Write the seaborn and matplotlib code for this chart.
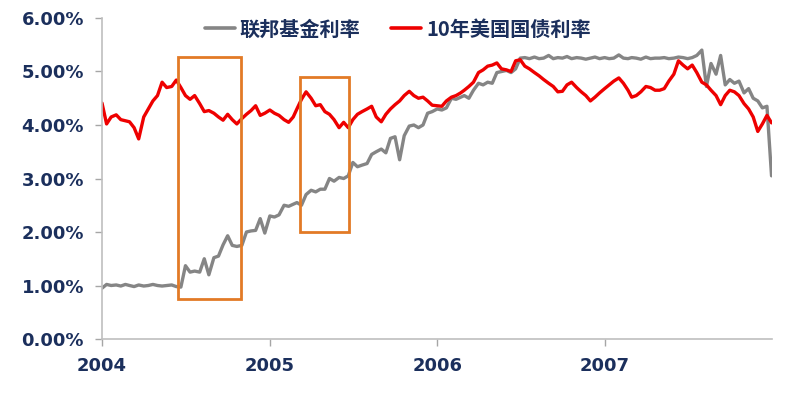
import matplotlib
matplotlib.use("Agg")
import matplotlib.pyplot as plt
import matplotlib.dates as mdates
from matplotlib.patches import Rectangle
import seaborn as sns
import pandas as pd

# ---- data (3 observations per month: 1st, 11th, 21st, plus 2007-12-31) ----
years = [2004, 2005, 2006, 2007]
days = [1, 11, 21]

fed_funds_2004 = [0.95, 1.02, 1.00, 1.01, 0.99, 1.02, 1.00, 0.98, 1.01, 0.99, 1.00, 1.02,
                  1.00, 0.99, 1.00, 1.01, 0.98, 0.97, 1.37, 1.25, 1.27, 1.25, 1.50, 1.20,
                  1.52, 1.55, 1.76, 1.93, 1.75, 1.73, 1.75, 2.00, 2.02, 2.03, 2.25, 1.98]
fed_funds_2005 = [2.30, 2.28, 2.32, 2.50, 2.48, 2.52, 2.55, 2.50, 2.70, 2.78, 2.75, 2.80,
                  2.80, 3.00, 2.95, 3.02, 3.00, 3.05, 3.30, 3.22, 3.25, 3.28, 3.45, 3.50,
                  3.55, 3.48, 3.75, 3.78, 3.35, 3.80, 3.98, 4.00, 3.95, 4.00, 4.22, 4.25]
fed_funds_2006 = [4.30, 4.28, 4.32, 4.50, 4.48, 4.52, 4.55, 4.50, 4.65, 4.78, 4.75, 4.80,
                  4.78, 4.98, 5.00, 5.02, 4.98, 5.05, 5.25, 5.26, 5.24, 5.27, 5.24, 5.25,
                  5.30, 5.24, 5.26, 5.25, 5.28, 5.24, 5.26, 5.25, 5.23, 5.25, 5.27, 5.24]
fed_funds_2007 = [5.26, 5.24, 5.25, 5.31, 5.25, 5.24, 5.26, 5.25, 5.23, 5.27, 5.24, 5.25,
                  5.25, 5.26, 5.24, 5.25, 5.27, 5.26, 5.24, 5.26, 5.30, 5.40, 4.72, 5.15,
                  4.95, 5.30, 4.75, 4.85, 4.78, 4.82, 4.60, 4.68, 4.50, 4.45, 4.32, 4.35]
fed_funds_end = [3.05]

treasury_2004 = [4.41, 4.02, 4.15, 4.19, 4.10, 4.08, 4.06, 3.95, 3.74, 4.15, 4.30, 4.45,
                 4.55, 4.80, 4.70, 4.72, 4.84, 4.70, 4.55, 4.48, 4.55, 4.40, 4.25, 4.27,
                 4.22, 4.15, 4.09, 4.20, 4.10, 4.02, 4.12, 4.20, 4.27, 4.36, 4.18, 4.22]
treasury_2005 = [4.28, 4.22, 4.18, 4.10, 4.05, 4.15, 4.30, 4.48, 4.62, 4.50, 4.36, 4.38,
                 4.25, 4.20, 4.10, 3.95, 4.05, 3.95, 4.10, 4.20, 4.25, 4.30, 4.35, 4.15,
                 4.06, 4.20, 4.30, 4.38, 4.45, 4.55, 4.63, 4.55, 4.50, 4.52, 4.45, 4.37]
treasury_2006 = [4.36, 4.35, 4.45, 4.52, 4.55, 4.60, 4.65, 4.72, 4.80, 4.98, 5.03, 5.10,
                 5.12, 5.16, 5.05, 5.03, 5.00, 5.20, 5.22, 5.10, 5.05, 4.98, 4.92, 4.85,
                 4.78, 4.72, 4.62, 4.63, 4.75, 4.80, 4.70, 4.62, 4.55, 4.45, 4.52, 4.60]
treasury_2007 = [4.68, 4.75, 4.82, 4.88, 4.78, 4.65, 4.52, 4.55, 4.62, 4.72, 4.70, 4.65,
                 4.65, 4.68, 4.82, 4.95, 5.20, 5.12, 5.05, 5.12, 4.98, 4.80, 4.75, 4.65,
                 4.55, 4.38, 4.55, 4.65, 4.62, 4.55, 4.40, 4.30, 4.15, 3.88, 4.02, 4.18]
treasury_end = [4.04]

series_names = ["联邦基金利率", "10年美国国债利率"]
year_tick_labels = ["2004", "2005", "2006", "2007"]

# ---- assemble ----
dates = [pd.Timestamp(y, m, d) for y in years for m in range(1, 13) for d in days]
dates.append(pd.Timestamp(2007, 12, 31))
fed = fed_funds_2004 + fed_funds_2005 + fed_funds_2006 + fed_funds_2007 + fed_funds_end
tsy = treasury_2004 + treasury_2005 + treasury_2006 + treasury_2007 + treasury_end

df = pd.DataFrame({
    "date": dates * 2,
    "rate": fed + tsy,
    "series": [series_names[0]] * len(fed) + [series_names[1]] * len(tsy),
})

sns.set_theme(style="white")
plt.rcParams["font.family"] = ["DejaVu Sans"]

navy = "#1B2F5C"
fig = plt.figure(figsize=(8, 3.93), dpi=100)
ax = fig.add_axes([0.1275, 0.1374, 0.8375, 0.8168])

sns.lineplot(data=df, x="date", y="rate", hue="series",
             palette={series_names[0]: "#858585", series_names[1]: "#EE0000"},
             linewidth=2.4, ax=ax, legend=True, estimator=None)

# highlight boxes
box_color = "#E27A26"
boxes = [(pd.Timestamp(2004, 6, 15), pd.Timestamp(2004, 10, 30), 0.75, 5.28),
         (pd.Timestamp(2005, 3, 7), pd.Timestamp(2005, 6, 22), 2.00, 4.90)]
for x0, x1, y0, y1 in boxes:
    a, b = mdates.date2num(x0), mdates.date2num(x1)
    ax.add_patch(Rectangle((a, y0), b - a, y1 - y0, fill=False,
                           edgecolor=box_color, linewidth=2.0, zorder=5))

ax.set_xlim(pd.Timestamp(2004, 1, 1), pd.Timestamp(2008, 1, 1))
ax.set_ylim(0, 6)
ax.set_yticks([0, 1, 2, 3, 4, 5, 6])
ax.set_yticklabels([f"{v:.2f}%" for v in range(7)])
ax.set_xticks([pd.Timestamp(int(y), 1, 1) for y in year_tick_labels])
ax.set_xticklabels(year_tick_labels)
ax.set_xlabel("")
ax.set_ylabel("")

for lab in ax.get_xticklabels() + ax.get_yticklabels():
    lab.set_fontweight("bold")
    lab.set_fontsize(13)
    lab.set_color(navy)

for side in ["top", "right"]:
    ax.spines[side].set_visible(False)
for side in ["left", "bottom"]:
    ax.spines[side].set_color("#BFBFBF")
    ax.spines[side].set_linewidth(1.2)
ax.tick_params(axis="both", which="both", direction="out", length=5,
               width=1, color="#A6A6A6", left=True, bottom=True)
ax.tick_params(axis="y", pad=8)
ax.tick_params(axis="x", pad=8)

handles, labels = ax.get_legend_handles_labels()
leg = ax.legend(handles, labels, loc="center left", bbox_to_anchor=(0.153, 0.966),
                ncol=2, frameon=False, handlelength=1.5, handletextpad=0.25,
                columnspacing=1.5, borderaxespad=0, borderpad=0,
                prop={"family": ["Noto Sans CJK SC", "DejaVu Sans"],
                      "weight": "bold", "size": 14.5})
for t in leg.get_texts():
    t.set_color(navy)
for h in leg.get_lines():
    h.set_linewidth(2.6)

fig.savefig("out.png", dpi=100, facecolor="white")
